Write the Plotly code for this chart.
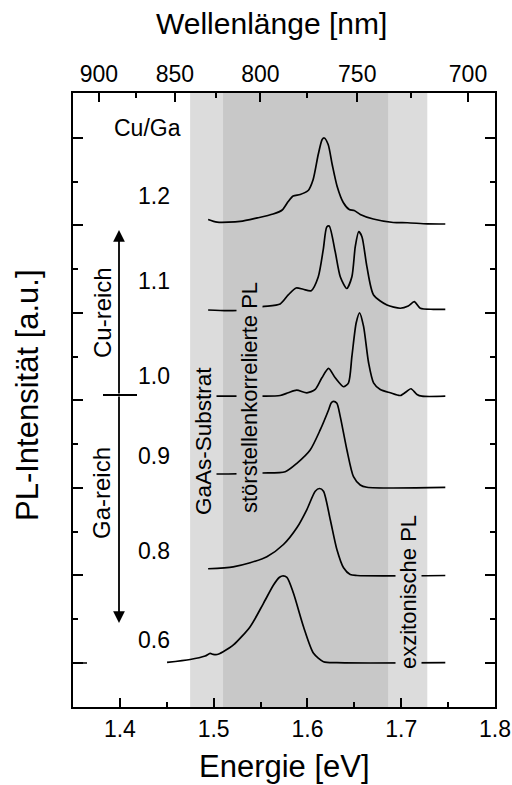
import plotly.graph_objects as go

# ---------------- data ----------------
LABELS = ["0.6", "0.8", "0.9", "1.0", "1.1", "1.2"]
OFFSETS = [0, 1, 2, 3, 4, 5]

E_06 = [1.4503, 1.4749, 1.4909, 1.4962, 1.4994, 1.5037, 1.5101, 1.5211, 1.5389, 1.5531, 1.5638, 1.5699, 1.5731, 1.5781, 1.5851, 1.5958, 1.6065, 1.6171, 1.6314, 1.7470]
I_06 = [0.008, 0.040, 0.080, 0.109, 0.099, 0.097, 0.129, 0.206, 0.415, 0.682, 0.891, 0.977, 0.994, 0.979, 0.797, 0.415, 0.111, 0.015, 0.003, 0.003]

E_08 = [1.4941, 1.5208, 1.5389, 1.5567, 1.5744, 1.5887, 1.5994, 1.6083, 1.6129, 1.6171, 1.6243, 1.6314, 1.6385, 1.6456, 1.6528, 1.7470]
I_08 = [0.077, 0.099, 0.145, 0.214, 0.354, 0.545, 0.754, 0.963, 0.994, 0.963, 0.640, 0.297, 0.088, 0.011, 0.000, 0.000]

E_09 = [1.4941, 1.5154, 1.5517, 1.5763, 1.5887, 1.6029, 1.6136, 1.6225, 1.6253, 1.6278, 1.6314, 1.6350, 1.6421, 1.6491, 1.6563, 1.6634, 1.7470]
I_09 = [0.160, 0.160, 0.171, 0.186, 0.282, 0.434, 0.663, 0.891, 0.971, 0.989, 0.968, 0.815, 0.434, 0.129, 0.034, 0.008, 0.006]

E_10 = [1.4941, 1.5154, 1.5517, 1.5709, 1.5795, 1.5885, 1.5994, 1.6083, 1.6154, 1.6225, 1.6296, 1.6385, 1.6438, 1.6474, 1.6520, 1.6556, 1.6598, 1.6652, 1.6705, 1.6776, 1.6883, 1.6990, 1.7061, 1.7104, 1.7168, 1.7221, 1.7470]
I_10 = [0.049, 0.049, 0.049, 0.057, 0.088, 0.118, 0.088, 0.126, 0.259, 0.366, 0.259, 0.157, 0.202, 0.504, 0.888, 1.002, 0.849, 0.431, 0.202, 0.126, 0.088, 0.057, 0.106, 0.134, 0.069, 0.049, 0.049]

E_11 = [1.4941, 1.5144, 1.5336, 1.5517, 1.5709, 1.5795, 1.5880, 1.5955, 1.6040, 1.6115, 1.6168, 1.6206, 1.6232, 1.6296, 1.6350, 1.6419, 1.6474, 1.6510, 1.6547, 1.6581, 1.6634, 1.6705, 1.6848, 1.6990, 1.7075, 1.7139, 1.7203, 1.7342, 1.7470]
I_11 = [0.034, 0.026, 0.034, 0.072, 0.103, 0.206, 0.286, 0.271, 0.255, 0.411, 0.720, 0.983, 0.994, 0.701, 0.415, 0.280, 0.415, 0.758, 0.929, 0.872, 0.529, 0.206, 0.091, 0.054, 0.080, 0.129, 0.054, 0.042, 0.042]

E_12 = [1.4941, 1.5037, 1.5282, 1.5464, 1.5634, 1.5731, 1.5795, 1.5848, 1.5923, 1.6008, 1.6061, 1.6115, 1.6157, 1.6179, 1.6221, 1.6264, 1.6317, 1.6382, 1.6446, 1.6499, 1.6563, 1.6702, 1.6915, 1.7065, 1.7278, 1.7470]
I_12 = [0.069, 0.038, 0.046, 0.086, 0.131, 0.177, 0.274, 0.337, 0.354, 0.400, 0.526, 0.811, 0.983, 1.000, 0.926, 0.697, 0.446, 0.263, 0.183, 0.171, 0.126, 0.074, 0.034, 0.031, 0.019, 0.017]

ENERGIES = [E_06, E_08, E_09, E_10, E_11, E_12]
INTENS = [I_06, I_08, I_09, I_10, I_11, I_12]

X_TICKS = [1.4, 1.5, 1.6, 1.7, 1.8]
X_MINOR = [1.45, 1.55, 1.65, 1.75]
WL_MAJOR = [900, 850, 800, 750, 700]
WL_MINOR = [875, 825, 775, 725]

SUBSTRATE_BAND = [1.4749, 1.7278]   # light grey
DEFECT_BAND = [1.510, 1.686]        # dark grey

HC = 1239.84

# ---------------- layout helpers ----------------
W, H = 512, 785
L, R, T, B = 73, 495, 93, 707
def px(x):
    return (x - L) / (R - L)
def py(y):
    return (B - y) / (B - T)

FONT = "Liberation Sans, Arial, sans-serif"

fig = go.Figure()

for e, i, off in zip(ENERGIES, INTENS, OFFSETS):
    fig.add_trace(go.Scatter(
        x=e, y=[v + off for v in i], mode="lines",
        line=dict(color="black", width=1.7, shape="spline", smoothing=0.7),
        hoverinfo="skip", showlegend=False))

# dummy trace for top axis
fig.add_trace(go.Scatter(x=[1.35, 1.8], y=[None, None], xaxis="x2", yaxis="y",
                         mode="lines", showlegend=False, hoverinfo="skip"))

shapes = [
    dict(type="rect", xref="x", yref="paper", x0=SUBSTRATE_BAND[0], x1=SUBSTRATE_BAND[1],
         y0=0, y1=1, fillcolor="#dcdcdc", line=dict(width=0), layer="below"),
    dict(type="rect", xref="x", yref="paper", x0=DEFECT_BAND[0], x1=DEFECT_BAND[1],
         y0=0, y1=1, fillcolor="#c8c8c8", line=dict(width=0), layer="below"),
    # crossbar of composition arrow
    dict(type="line", xref="paper", yref="paper", x0=px(103), x1=px(137),
         y0=py(395), y1=py(395), line=dict(color="black", width=2)),
    # longer mark at lowest baseline
    dict(type="line", xref="paper", yref="y", x0=0, x1=px(87), y0=0, y1=0,
         line=dict(color="black", width=1.5)),
]

ann = []
def text(t, x, y, size=22, angle=0, bg=None, xanchor="center"):
    d = dict(text=t, xref="paper", yref="paper", x=px(x), y=py(y), showarrow=False,
             font=dict(family=FONT, size=size, color="black"), textangle=angle,
             xanchor=xanchor, yanchor="middle")
    if bg:
        d["bgcolor"] = bg
        d["borderpad"] = 0
    ann.append(d)

text("Cu/Ga", 147.5, 128, size=23)
label_y = [640, 551, 456, 376, 281, 196]
for lab, yy in zip(LABELS, label_y):
    text(lab, 154, yy, size=23)

text("Cu-reich", 102, 313, size=24, angle=-90)
text("Ga-reich", 101, 493, size=24, angle=-90)
text("GaAs-Substrat", 203, 441, size=22.5, angle=-90, bg="#dcdcdc")
text("störstellenkorrelierte PL", 249, 398, size=22, angle=-90, bg="#c8c8c8")
text("exzitonische PL", 408, 592, size=22, angle=-90, bg="#dcdcdc")

text("Energie [eV]", 284, 766, size=31)
text("Wellenlänge [nm]", 271, 24, size=30)
text("PL-Intensität [a.u.]", 27, 395, size=31, angle=-90)

# arrows
for yhead in (230, 623):
    ann.append(dict(xref="paper", yref="paper", x=px(119), y=py(yhead),
                    axref="pixel", ayref="pixel", ax=0, ay=(395 - yhead),
                    showarrow=True, arrowhead=2, arrowsize=1.3, arrowwidth=1.8,
                    arrowcolor="black", text=""))

axis_common = dict(showgrid=False, zeroline=False, showline=True, linecolor="black",
                   ticks="inside", tickcolor="black",
                   tickfont=dict(family=FONT, size=23, color="black"))

fig.update_layout(
    width=W, height=H,
    margin=dict(l=L, r=W - R, t=T, b=H - B, pad=0),
    paper_bgcolor="white", plot_bgcolor="white",
    shapes=shapes, annotations=ann,
    xaxis=dict(range=[1.35, 1.8], tickmode="array", tickvals=X_TICKS,
               ticktext=[f"{v:.1f}" for v in X_TICKS], ticklen=9, tickwidth=1.5,
               linewidth=2, automargin=False,
               minor=dict(tickmode="array", tickvals=X_MINOR, ticklen=5, tickwidth=1.5,
                          ticks="inside", tickcolor="black"),
               **axis_common),
    xaxis2=dict(range=[1.35, 1.8], overlaying="x", side="top", tickmode="array",
                tickvals=[HC / w for w in WL_MAJOR], ticktext=[str(w) for w in WL_MAJOR],
                ticklen=9, tickwidth=1.5, linewidth=2, automargin=False,
                minor=dict(tickmode="array", tickvals=[HC / w for w in WL_MINOR], ticklen=5,
                           tickwidth=1.5, ticks="inside", tickcolor="black"),
                **axis_common),
    yaxis=dict(range=[-0.503, 6.514], tickmode="array", tickvals=[0, 1, 2, 3, 4, 5, 6],
               showticklabels=False, ticklen=10, tickwidth=1.5, linewidth=2,
               mirror="ticks", automargin=False,
               minor=dict(tickmode="array", tickvals=[0.5, 1.5, 2.5, 3.5, 4.5, 5.5],
                          ticklen=5, tickwidth=1.5, ticks="inside", tickcolor="black"),
               **axis_common),
)

fig.write_html("out.html")
